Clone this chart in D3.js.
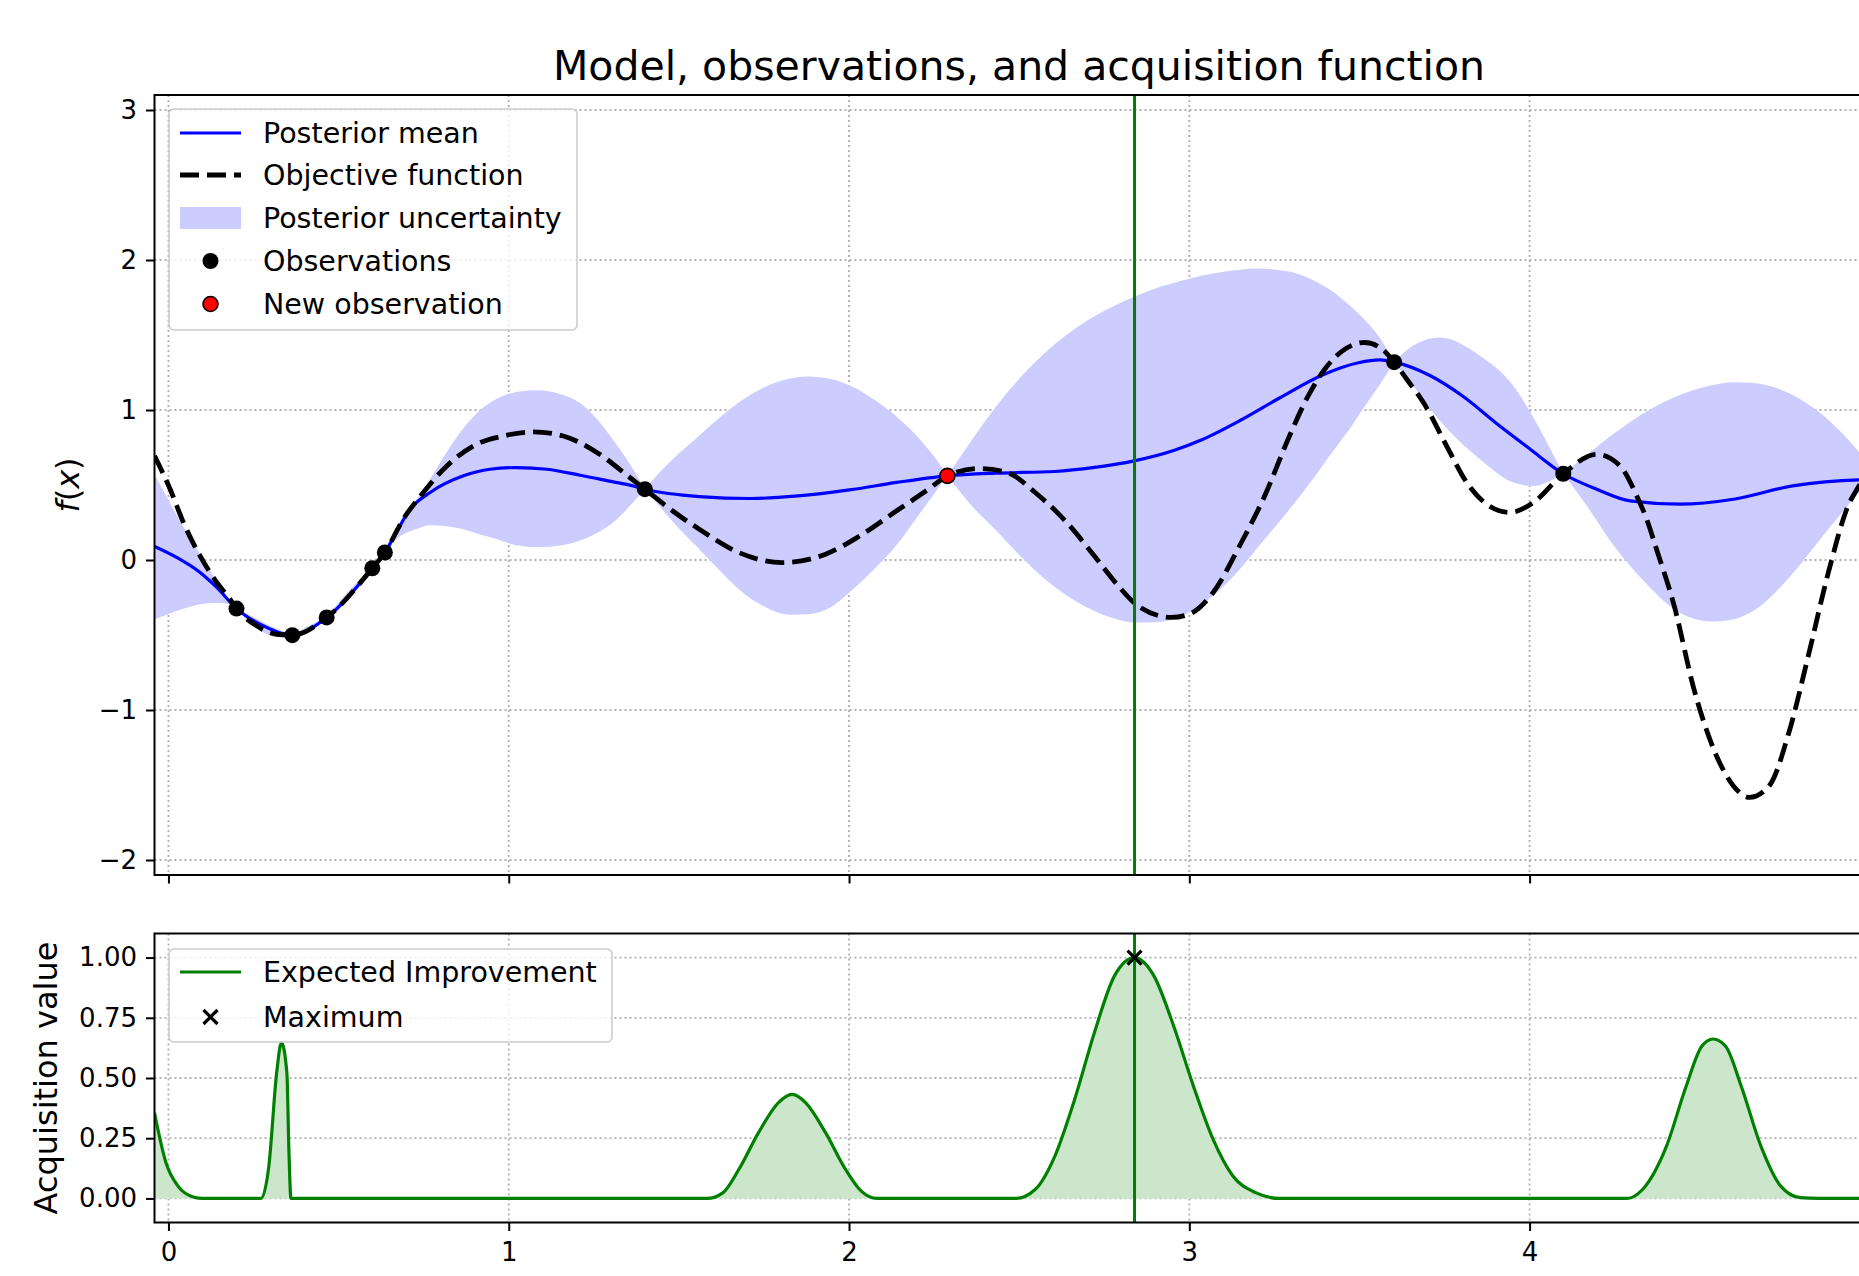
<!DOCTYPE html>
<html><head><meta charset="utf-8">
<script src="https://cdn.jsdelivr.net/npm/d3@7"></script>
<style>html,body{margin:0;padding:0;background:#fff;overflow:hidden}svg{display:block}text{font-family:"DejaVu Sans",sans-serif}</style>
</head><body><svg id="c" width="1859" height="1276"></svg>
<script>
// ---------------- data ----------------
const titleText = "Model, observations, and acquisition function";
const xTicks = [0, 1, 2, 3, 4];
const yTicksTop = [-2, -1, 0, 1, 2, 3];
const yTicksBottom = [0, 0.25, 0.5, 0.75, 1.0];

const objX = [-0.041, 0.005, 0.044, 0.093, 0.142, 0.181, 0.2, 0.259, 0.318, 0.364, 0.465, 0.599, 0.636, 0.69, 0.749, 0.818, 0.906, 0.984, 1.072, 1.16, 1.259, 1.356, 1.4, 1.48, 1.56, 1.676, 1.803, 1.931, 2.024, 2.14, 2.233, 2.289, 2.384, 2.466, 2.547, 2.64, 2.721, 2.791, 2.849, 2.948, 3.0, 3.07, 3.149, 3.22, 3.295, 3.346, 3.404, 3.45, 3.515, 3.567, 3.602, 3.639, 3.688, 3.756, 3.815, 3.874, 3.942, 4.011, 4.099, 4.197, 4.266, 4.315, 4.344, 4.373, 4.425, 4.483, 4.541, 4.599, 4.646, 4.704, 4.762, 4.819, 4.878, 4.936, 4.968, 5.0];
const objY = [0.694, 0.472, 0.25, 0.027, -0.15, -0.261, -0.324, -0.439, -0.495, -0.501, -0.383, -0.055, 0.05, 0.272, 0.45, 0.627, 0.772, 0.827, 0.854, 0.827, 0.717, 0.55, 0.472, 0.33, 0.205, 0.05, -0.017, 0.039, 0.15, 0.328, 0.472, 0.561, 0.61, 0.583, 0.45, 0.25, 0.027, -0.172, -0.306, -0.383, -0.361, -0.217, 0.10, 0.42, 0.83, 1.08, 1.29, 1.394, 1.45, 1.405, 1.319, 1.205, 1.05, 0.761, 0.517, 0.372, 0.317, 0.383, 0.575, 0.705, 0.627, 0.427, 0.272, 0.072, -0.306, -0.861, -1.261, -1.506, -1.583, -1.506, -1.15, -0.639, -0.083, 0.361, 0.494, 0.62];

const meanX = [-0.041, 0.024, 0.093, 0.142, 0.2, 0.269, 0.364, 0.465, 0.599, 0.636, 0.671, 0.71, 0.769, 0.867, 0.945, 1.023, 1.112, 1.21, 1.307, 1.356, 1.4, 1.56, 1.711, 1.85, 2.001, 2.14, 2.289, 2.431, 2.605, 2.721, 2.838, 2.954, 3.035, 3.149, 3.265, 3.393, 3.497, 3.56, 3.602, 3.707, 3.805, 3.903, 4.001, 4.099, 4.197, 4.295, 4.442, 4.599, 4.773, 4.968, 5.0];
const meanY = [0.09, 0.017, -0.083, -0.183, -0.324, -0.428, -0.501, -0.383, -0.055, 0.05, 0.19, 0.339, 0.45, 0.561, 0.605, 0.616, 0.605, 0.565, 0.521, 0.499, 0.472, 0.423, 0.41, 0.427, 0.467, 0.517, 0.561, 0.579, 0.59, 0.617, 0.661, 0.73, 0.80, 0.93, 1.08, 1.235, 1.315, 1.334, 1.319, 1.23, 1.09, 0.91, 0.74, 0.575, 0.472, 0.394, 0.372, 0.405, 0.494, 0.534, 0.535];

const bandX = [-0.041, 0.0, 0.044, 0.093, 0.142, 0.181, 0.2, 0.24, 0.29, 0.33, 0.364, 0.41, 0.465, 0.53, 0.599, 0.636, 0.67, 0.70, 0.72, 0.769, 0.818, 0.867, 0.916, 0.965, 1.023, 1.082, 1.16, 1.21, 1.259, 1.307, 1.356, 1.4, 1.45, 1.5, 1.56, 1.62, 1.676, 1.75, 1.827, 1.879, 1.95, 2.001, 2.07, 2.14, 2.21, 2.25, 2.289, 2.361, 2.431, 2.489, 2.547, 2.605, 2.663, 2.721, 2.78, 2.838, 2.9, 2.977, 3.07, 3.149, 3.207, 3.288, 3.323, 3.36, 3.427, 3.47, 3.52, 3.56, 3.602, 3.658, 3.736, 3.854, 3.952, 4.011, 4.07, 4.099, 4.168, 4.246, 4.344, 4.425, 4.535, 4.599, 4.657, 4.773, 4.854, 4.912, 4.968, 5.0];
const bandLower = [-0.397, -0.36, -0.325, -0.295, -0.285, -0.295, -0.324, -0.42, -0.495, -0.515, -0.501, -0.47, -0.383, -0.245, -0.055, 0.05, 0.14, 0.183, 0.20, 0.232, 0.225, 0.205, 0.17, 0.139, 0.098, 0.085, 0.10, 0.13, 0.18, 0.25, 0.361, 0.472, 0.34, 0.21, 0.072, -0.07, -0.195, -0.31, -0.365, -0.362, -0.31, -0.217, -0.07, 0.10, 0.317, 0.44, 0.561, 0.36, 0.20, 0.06, -0.07, -0.18, -0.27, -0.34, -0.39, -0.417, -0.415, -0.375, -0.239, -0.06, 0.10, 0.32, 0.42, 0.53, 0.74, 0.87, 1.04, 1.17, 1.319, 1.161, 0.93, 0.672, 0.517, 0.494, 0.539, 0.575, 0.361, 0.10, -0.16, -0.328, -0.41, -0.395, -0.34, -0.09, 0.139, 0.30, 0.45, 0.52];
const bandUpper = [0.572, 0.40, 0.22, 0.04, -0.14, -0.27, -0.324, -0.37, -0.43, -0.47, -0.501, -0.44, -0.383, -0.205, -0.055, 0.05, 0.20, 0.30, 0.37, 0.54, 0.72, 0.88, 1.0, 1.075, 1.12, 1.132, 1.10, 1.045, 0.94, 0.80, 0.64, 0.472, 0.60, 0.71, 0.83, 0.95, 1.05, 1.15, 1.21, 1.223, 1.205, 1.165, 1.075, 0.955, 0.80, 0.69, 0.561, 0.80, 1.02, 1.18, 1.32, 1.44, 1.54, 1.625, 1.695, 1.755, 1.81, 1.862, 1.91, 1.935, 1.943, 1.925, 1.905, 1.87, 1.78, 1.70, 1.59, 1.48, 1.319, 1.43, 1.483, 1.361, 1.161, 0.95, 0.70, 0.575, 0.70, 0.84, 0.99, 1.085, 1.165, 1.185, 1.18, 1.10, 0.98, 0.86, 0.72, 0.63];

const obsX = [0.2, 0.364, 0.465, 0.599, 0.636, 1.4, 3.602, 4.099];
const obsY = [-0.324, -0.501, -0.383, -0.055, 0.05, 0.472, 1.319, 0.575];
const newObsX = [2.289];
const newObsY = [0.561];

const eiX = [-0.041, -0.007, 0.028, 0.075, 0.1, 0.272, 0.295, 0.318, 0.332, 0.348, 0.354, 0.36, 1.583, 1.629, 1.676, 1.734, 1.792, 1.833, 1.873, 1.931, 1.99, 2.036, 2.082, 2.49, 2.547, 2.605, 2.663, 2.721, 2.78, 2.839, 2.896, 2.954, 3.012, 3.07, 3.128, 3.195, 3.265, 4.286, 4.332, 4.402, 4.46, 4.506, 4.539, 4.576, 4.622, 4.68, 4.738, 4.796, 4.85, 5.04];
const eiY = [0.355, 0.147, 0.051, 0.005, 0, 0, 0.133, 0.522, 0.647, 0.522, 0.2, 0, 0, 0.023, 0.12, 0.273, 0.397, 0.432, 0.397, 0.273, 0.12, 0.03, 0, 0, 0.037, 0.176, 0.411, 0.688, 0.924, 1.0, 0.924, 0.716, 0.467, 0.245, 0.093, 0.024, 0, 0, 0.037, 0.216, 0.466, 0.632, 0.662, 0.632, 0.466, 0.216, 0.051, 0.003, 0, 0];
const nextX = [2.839];
const eiMaxY = [1.0];

const legendTop = ["Posterior mean", "Objective function", "Posterior uncertainty", "Observations", "New observation"];
const legendBottom = ["Expected Improvement", "Maximum"];

// ---------------- layout ----------------
const W = 1859, H = 1276;
const L = 154.5, R = 1883.5, T1 = 95, B1 = 875, T2 = 933.5, B2 = 1222.5;
const FONT = "DejaVu Sans";
const BLUE = "#0000ff", GREEN = "#008000", BAND = "#ccccff", EIFILL = "#cce6cc", GRID = "#b0b0b0";
const DASH = "19,8", DASHW = 4.8;

const x = d3.scaleLinear().domain([-0.041, 5.04]).range([L, R]);
const y1 = d3.scaleLinear().domain([-2.1, 3.1]).range([B1, T1]);
const y2 = d3.scaleLinear().domain([-0.1, 1.1]).range([B2, T2]);

const svg = d3.select("#c");
svg.append("rect").attr("width", W).attr("height", H).attr("fill", "#fff");
const defs = svg.append("defs");
defs.append("clipPath").attr("id", "clip1").append("rect").attr("x", L).attr("y", T1).attr("width", R - L).attr("height", B1 - T1);
defs.append("clipPath").attr("id", "clip2").append("rect").attr("x", L).attr("y", T2).attr("width", R - L).attr("height", B2 - T2);

function drawGrid(ys, yTicks, top, bottom) {
  const g = svg.append("g").attr("stroke", GRID).attr("stroke-width", 1.8).attr("stroke-dasharray", "2,3");
  g.selectAll(null).data(xTicks).join("line")
    .attr("x1", d => x(d)).attr("x2", d => x(d)).attr("y1", top).attr("y2", bottom);
  g.selectAll(null).data(yTicks).join("line")
    .attr("x1", L).attr("x2", R).attr("y1", d => ys(d)).attr("y2", d => ys(d));
}
drawGrid(y1, yTicksTop, T1, B1);
drawGrid(y2, yTicksBottom, T2, B2);

// ---------------- top panel ----------------
const p1 = svg.append("g").attr("clip-path", "url(#clip1)");
const band = bandX.map((v, i) => ({ x: v, lo: bandLower[i], hi: bandUpper[i] }));
const segs = []; let cur = [];
band.forEach((d, i) => {
  cur.push(d);
  if (i > 0 && d.lo === d.hi && cur.length > 1) { segs.push(cur); cur = [d]; }
});
if (cur.length > 1) segs.push(cur);
const area1 = d3.area().x(d => x(d.x)).y0(d => y1(d.lo)).y1(d => y1(d.hi)).curve(d3.curveMonotoneX);
p1.selectAll(null).data(segs).join("path").attr("d", area1).attr("fill", BAND).attr("stroke", "none");

const line1 = d3.line().x(d => x(d[0])).y(d => y1(d[1])).curve(d3.curveMonotoneX);
p1.append("path").attr("d", line1(meanX.map((v, i) => [v, meanY[i]])))
  .attr("fill", "none").attr("stroke", BLUE).attr("stroke-width", 3.2);
p1.append("path").attr("d", line1(objX.map((v, i) => [v, objY[i]])))
  .attr("fill", "none").attr("stroke", "#000").attr("stroke-width", DASHW).attr("stroke-dasharray", DASH);
p1.selectAll(null).data(nextX).join("line")
  .attr("x1", d => x(d)).attr("x2", d => x(d)).attr("y1", T1).attr("y2", B1)
  .attr("stroke", GREEN).attr("stroke-width", 3);
p1.selectAll(null).data(obsX).join("circle")
  .attr("cx", d => x(d)).attr("cy", (d, i) => y1(obsY[i])).attr("r", 8).attr("fill", "#000");
p1.selectAll(null).data(newObsX).join("circle")
  .attr("cx", d => x(d)).attr("cy", (d, i) => y1(newObsY[i])).attr("r", 7.5)
  .attr("fill", "#ff0000").attr("stroke", "#000").attr("stroke-width", 1.6);

// ---------------- bottom panel ----------------
const p2 = svg.append("g").attr("clip-path", "url(#clip2)");
const eiPts = eiX.map((v, i) => [v, eiY[i]]);
p2.append("path").attr("d", d3.area().x(d => x(d[0])).y0(y2(0)).y1(d => y2(d[1])).curve(d3.curveMonotoneX)(eiPts))
  .attr("fill", EIFILL);
p2.append("path").attr("d", d3.line().x(d => x(d[0])).y(d => y2(d[1])).curve(d3.curveMonotoneX)(eiPts))
  .attr("fill", "none").attr("stroke", GREEN).attr("stroke-width", 3.2);
p2.selectAll(null).data(nextX).join("line")
  .attr("x1", d => x(d)).attr("x2", d => x(d)).attr("y1", T2).attr("y2", B2)
  .attr("stroke", GREEN).attr("stroke-width", 3);
const xm = 7;
nextX.forEach((v, i) => {
  const cx = x(v), cy = y2(eiMaxY[i]);
  p2.append("path").attr("d", `M${cx - xm},${cy - xm}L${cx + xm},${cy + xm}M${cx - xm},${cy + xm}L${cx + xm},${cy - xm}`)
    .attr("stroke", "#000").attr("stroke-width", 3.2).attr("fill", "none");
});

// ---------------- axes ----------------
function styleAxis(g) {
  g.attr("font-size", 26).attr("font-family", FONT);
  g.select(".domain").remove();
  g.selectAll(".tick line").attr("stroke", "#000").attr("stroke-width", 2);
  g.selectAll(".tick text").attr("fill", "#000");
}
const fmtTop = d => (d < 0 ? "\u2212" + Math.abs(d) : String(d));
svg.append("g").attr("transform", `translate(${L},0)`)
  .call(d3.axisLeft(y1).tickValues(yTicksTop).tickSize(8.5).tickPadding(9).tickFormat(fmtTop)).call(styleAxis);
svg.append("g").attr("transform", `translate(0,${B1})`)
  .call(d3.axisBottom(x).tickValues(xTicks).tickSize(8.5).tickFormat("")).call(styleAxis);
svg.append("g").attr("transform", `translate(${L},0)`)
  .call(d3.axisLeft(y2).tickValues(yTicksBottom).tickSize(8.5).tickPadding(9).tickFormat(d3.format(".2f"))).call(styleAxis);
svg.append("g").attr("transform", `translate(0,${B2})`)
  .call(d3.axisBottom(x).tickValues(xTicks).tickSize(8.5).tickPadding(12).tickFormat(d3.format("d"))).call(styleAxis);

// spines
[[T1, B1], [T2, B2]].forEach(([t, b]) => {
  svg.append("rect").attr("x", L).attr("y", t).attr("width", R - L).attr("height", b - t)
    .attr("fill", "none").attr("stroke", "#000").attr("stroke-width", 2);
});

// title and labels
svg.append("text").attr("x", (L + R) / 2).attr("y", 80).attr("text-anchor", "middle")
  .attr("font-size", 41).attr("font-family", FONT).text(titleText);
const fl = svg.append("text").attr("transform", `translate(79,${(T1 + B1) / 2}) rotate(-90)`)
  .attr("text-anchor", "middle").attr("font-size", 32).attr("font-family", FONT);
fl.append("tspan").attr("font-style", "italic").text("f");
fl.append("tspan").text("(");
fl.append("tspan").attr("font-style", "italic").text("x");
fl.append("tspan").text(")");
svg.append("text").attr("transform", `translate(57,${(T2 + B2) / 2}) rotate(-90)`)
  .attr("text-anchor", "middle").attr("font-size", 32).attr("font-family", FONT).text("Acquisition value");

// ---------------- legends ----------------
function legendBox(x0, y0, w, h) {
  svg.append("rect").attr("x", x0).attr("y", y0).attr("width", w).attr("height", h).attr("rx", 5)
    .attr("fill", "#fff").attr("fill-opacity", 0.8).attr("stroke", "#cccccc").attr("stroke-width", 1.6);
}
const hx0 = 180, hx1 = 241, hxc = 210.5, tx = 263, LF = 28.5;
function legendText(label, yy) {
  svg.append("text").attr("x", tx).attr("y", yy).attr("dy", "0.35em").attr("font-size", LF)
    .attr("font-family", FONT).text(label);
}
legendBox(169, 109, 408, 221);
const rowsTop = [133, 175, 218, 261, 304];
svg.append("line").attr("x1", hx0).attr("x2", hx1).attr("y1", rowsTop[0]).attr("y2", rowsTop[0]).attr("stroke", BLUE).attr("stroke-width", 3.2);
svg.append("line").attr("x1", hx0).attr("x2", hx1).attr("y1", rowsTop[1]).attr("y2", rowsTop[1]).attr("stroke", "#000").attr("stroke-width", DASHW).attr("stroke-dasharray", DASH);
svg.append("rect").attr("x", hx0).attr("y", rowsTop[2] - 11).attr("width", hx1 - hx0).attr("height", 22).attr("fill", BAND);
svg.append("circle").attr("cx", hxc).attr("cy", rowsTop[3]).attr("r", 8).attr("fill", "#000");
svg.append("circle").attr("cx", hxc).attr("cy", rowsTop[4]).attr("r", 7.5).attr("fill", "#ff0000").attr("stroke", "#000").attr("stroke-width", 1.6);
legendTop.forEach((t, i) => legendText(t, rowsTop[i]));

legendBox(169, 949, 443, 93);
const rowsBot = [972, 1017];
svg.append("line").attr("x1", hx0).attr("x2", hx1).attr("y1", rowsBot[0]).attr("y2", rowsBot[0]).attr("stroke", GREEN).attr("stroke-width", 3.2);
svg.append("path").attr("d", `M${hxc - xm},${rowsBot[1] - xm}L${hxc + xm},${rowsBot[1] + xm}M${hxc - xm},${rowsBot[1] + xm}L${hxc + xm},${rowsBot[1] - xm}`)
  .attr("stroke", "#000").attr("stroke-width", 3.2);
legendBottom.forEach((t, i) => legendText(t, rowsBot[i]));
</script>
</body></html>
